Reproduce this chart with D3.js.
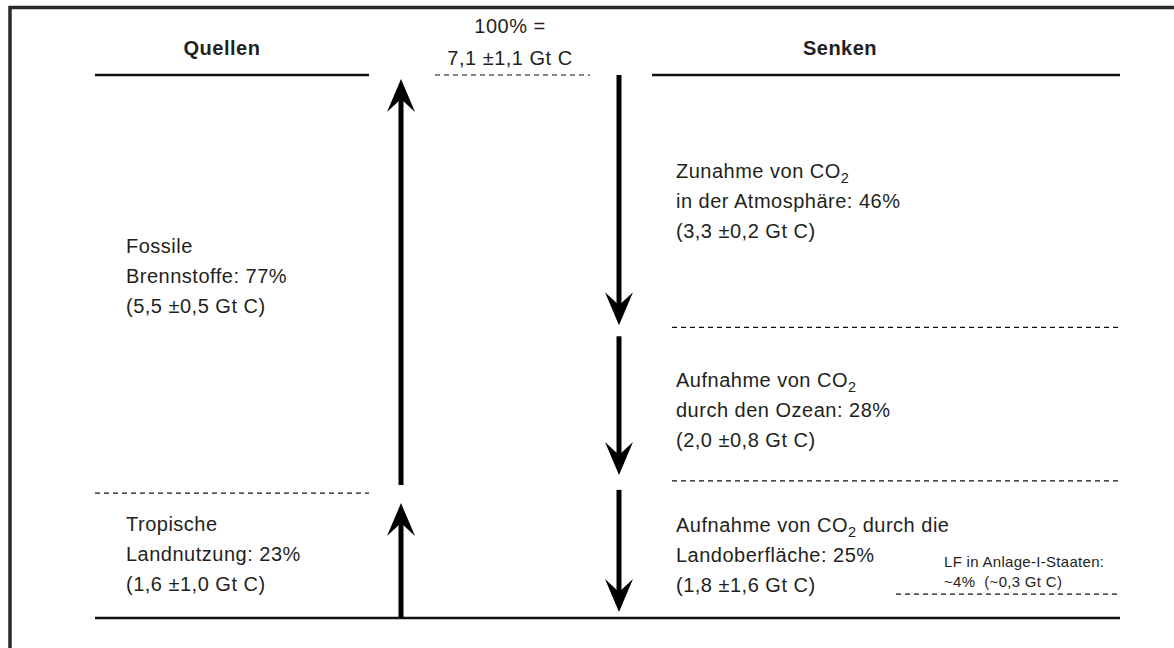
<!DOCTYPE html>
<html>
<meta charset="utf-8">
<style>
body {
	margin: 0;
	background: #fff;
}

svg text {
	font-family: Helvetica, Arial, "Liberation Sans", sans-serif;
	fill: #231f20;
	white-space: pre;
	letter-spacing: 0.5px;
}

.head {
	font-size: 20px;
	font-weight: bold;
}

.lbl {
	font-size: 20px;
}

.small {
	font-size: 15px;
	letter-spacing: 0.3px;
}
</style>

<body>
<svg id="chart" width="1174" height="648"></svg>

<script src="https://d3js.org/d3.v7.min.js"></script>

<script>
// Quellen links, Senken rechts, Anteile in %
var sourceShares = [77, 23];
var sourceLabels = [
	["Fossile", "Brennstoffe: 77%", "(5,5 ±0,5 Gt C)"],
	["Tropische", "Landnutzung: 23%", "(1,6 ±1,0 Gt C)"]
];

var sinkShares = [46, 28, 25];
var sinkLabels = [
	["Zunahme von CO2", "in der Atmosphäre: 46%", "(3,3 ±0,2 Gt C)"],
	["Aufnahme von CO2", "durch den Ozean: 28%", "(2,0 ±0,8 Gt C)"],
	["Aufnahme von CO2 durch die", "Landoberfläche: 25%", "(1,8 ±1,6 Gt C)"]
];

var lfShare = 4;
var lfLabels = ["LF in Anlage-I-Staaten:", "~4%  (~0,3 Gt C)"];

var headers = ["Quellen", "Senken"];
var totalLabels = ["100% =", "7,1 ±1,1 Gt C"];

var svg = d3.select("#chart");

var yTop = 75, yBottom = 618;
var ySrc = d3.scaleLinear().domain([0, d3.sum(sourceShares)]).range([yTop, yBottom]);
var ySink = d3.scaleLinear().domain([0, d3.sum(sinkShares)]).range([yTop, yBottom]);

var leftX = [95, 369], rightX = [652, 1120], midX = [435, 590];
var srcArrowX = 401, sinkArrowX = 619;
var lineH = 30;
// kleine Verschiebung der Textblöcke gegenüber der Segmentmitte
var srcShift = [-8, -2], sinkShift = [0, 6, 6];

// Rahmen
svg.append("path")
	.attr("d", "M10,648 V7.5 H1174")
	.attr("fill", "none")
	.attr("stroke", "#2a2a2a")
	.attr("stroke-width", 3.5);

// Kopfzeile
svg.append("text").attr("class", "head").attr("x", 222).attr("y", 55)
	.attr("text-anchor", "middle").text(headers[0]);
svg.append("text").attr("class", "head").attr("x", 840).attr("y", 55)
	.attr("text-anchor", "middle").text(headers[1]);
totalLabels.forEach(function(t, i) {
	svg.append("text").attr("class", "lbl").attr("x", 510).attr("y", 33 + i * 32)
		.attr("text-anchor", "middle").text(t);
});

function hline(x0, x1, y, dashed) {
	svg.append("line")
		.attr("x1", x0).attr("x2", x1).attr("y1", y).attr("y2", y)
		.attr("stroke", "#111")
		.attr("stroke-width", dashed ? 1.2 : 2.6)
		.attr("stroke-dasharray", dashed ? "5,4" : null);
}

hline(leftX[0], leftX[1], yTop, false);
hline(rightX[0], rightX[1], yTop, false);
hline(midX[0], midX[1], yTop, true);
hline(leftX[0], rightX[1], yBottom, false);

// Pfeile
function arrow(x, yStart, yTip) {
	var dir = yTip < yStart ? -1 : 1;
	var headLen = 33, notch = 20, halfW = 14;
	svg.append("line")
		.attr("x1", x).attr("x2", x)
		.attr("y1", yStart).attr("y2", yTip - dir * notch)
		.attr("stroke", "#000").attr("stroke-width", 5);
	svg.append("path")
		.attr("d", "M" + x + "," + yTip +
			"L" + (x - halfW) + "," + (yTip - dir * headLen) +
			"L" + x + "," + (yTip - dir * notch) +
			"L" + (x + halfW) + "," + (yTip - dir * headLen) + "Z")
		.attr("fill", "#000");
}

function addLines(lines, x, yCenter) {
	var y0 = yCenter - (lines.length - 1) * lineH / 2 + 7;
	lines.forEach(function(line, i) {
		var t = svg.append("text").attr("class", "lbl").attr("x", x).attr("y", y0 + i * lineH);
		var parts = line.split("CO2");
		parts.forEach(function(p, j) {
			if (j > 0) {
				t.append("tspan").text("CO");
				t.append("tspan").attr("font-size", "14.5px").attr("dy", 5).text("2");
				t.append("tspan").attr("dy", -5).text(p);
			} else {
				t.append("tspan").text(p);
			}
		});
	});
}

// Quellen: Pfeile nach oben
var cum = 0;
sourceShares.forEach(function(s, i) {
	var y0 = ySrc(cum), y1 = ySrc(cum + s);
	cum += s;
	if (i < sourceShares.length - 1) hline(leftX[0], leftX[1], y1, true);
	arrow(srcArrowX, i === sourceShares.length - 1 ? y1 : y1 - 8, y0 + (i === 0 ? 4 : 10));
	addLines(sourceLabels[i], 126, (y0 + y1) / 2 + srcShift[i]);
});

// Senken: Pfeile nach unten
cum = 0;
sinkShares.forEach(function(s, i) {
	var y0 = ySink(cum), y1 = ySink(cum + s);
	cum += s;
	if (i < sinkShares.length - 1) hline(672, rightX[1], y1, true);
	arrow(sinkArrowX, i === 0 ? y0 : y0 + 9, y1 - (i === 0 ? 2 : 6));
	addLines(sinkLabels[i], 676, (y0 + y1) / 2 + sinkShift[i]);
});

// LF in Anlage-I-Staaten
var yLf = ySink(d3.sum(sinkShares) - lfShare) - 2;
hline(896, rightX[1], yLf, true);
lfLabels.forEach(function(t, i) {
	svg.append("text").attr("class", "small").attr("x", 944).attr("y", yLf - 27 + i * 20).text(t);
});
</script>
</body>
</html>
